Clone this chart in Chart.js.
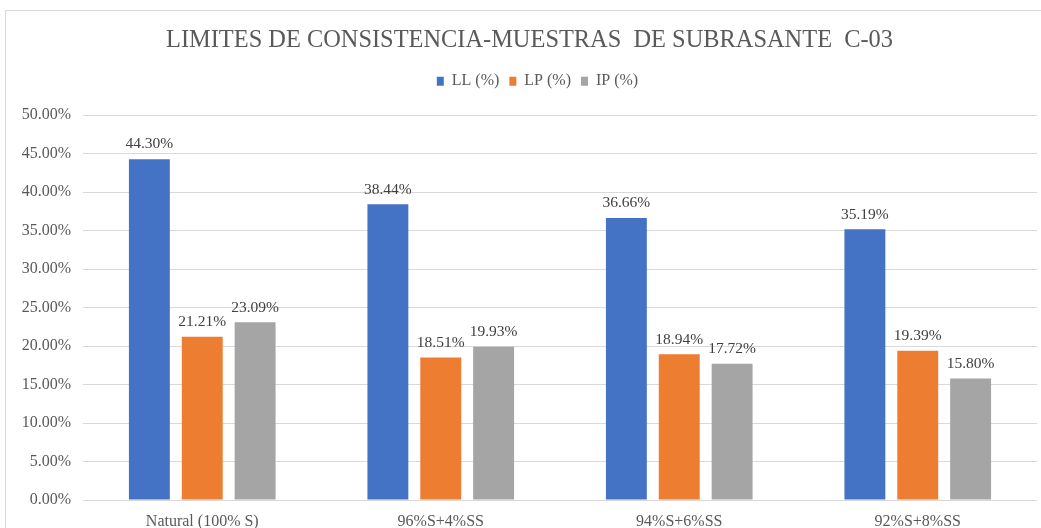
<!DOCTYPE html>
<html><head><meta charset="utf-8">
<script src="https://cdn.jsdelivr.net/npm/chart.js@4"></script>
<style>
html,body{margin:0;padding:0;background:#fff;overflow:hidden}
#wrap{position:relative;width:1041px;height:528px}
#frame{position:absolute;left:5px;top:10px;width:1100px;height:600px;border:1px solid #d9d9d9;box-sizing:border-box}
canvas{position:absolute;left:0;top:0}
</style></head>
<body><div id="wrap"><div id="frame"></div><canvas id="c" width="1041" height="528"></canvas></div>
<script>
const categories = ['Natural (100% S)', '96%S+4%SS', '94%S+6%SS', '92%S+8%SS'];
const seriesNames = ['LL (%)', 'LP (%)', 'IP (%)'];
const llValues = [44.30, 38.44, 36.66, 35.19];
const lpValues = [21.21, 18.51, 18.94, 19.39];
const ipValues = [23.09, 19.93, 17.72, 15.80];
const colors = ['#4472C4', '#ED7D31', '#A5A5A5'];
const FONT = "'Liberation Serif', 'Times New Roman', serif";

function shiftDraw(box, dx) {
  if (!box) return;
  const d = box.draw.bind(box);
  box.draw = function (...args) {
    const ctx = this.ctx;
    ctx.save();
    ctx.translate(dx, 0);
    d(...args);
    ctx.restore();
  };
}

const valueLabels = {
  id: 'valueLabels',
  afterInit(chart) {
    const l = chart.legend;
    if (l) {
      const f = l.fit.bind(l);
      l.fit = function () { f(); this.height += 16; };
    }
    shiftDraw(chart.legend, 19);
    shiftDraw(chart.titleBlock, 11);
  },
  afterDatasetsDraw(chart) {
    const ctx = chart.ctx;
    ctx.save();
    ctx.font = '15.5px ' + FONT;
    ctx.fillStyle = '#404040';
    ctx.textAlign = 'center';
    ctx.textBaseline = 'bottom';
    chart.data.datasets.forEach((ds, i) => {
      chart.getDatasetMeta(i).data.forEach((bar, j) => {
        ctx.fillText(ds.data[j].toFixed(2) + '%', bar.x, bar.y - 7);
      });
    });
    ctx.restore();
  }
};

new Chart(document.getElementById('c'), {
  type: 'bar',
  data: {
    labels: categories,
    datasets: [
      { label: seriesNames[0], data: llValues, backgroundColor: colors[0] },
      { label: seriesNames[1], data: lpValues, backgroundColor: colors[1] },
      { label: seriesNames[2], data: ipValues, backgroundColor: colors[2] }
    ]
  },
  options: {
    responsive: false,
    animation: false,
    devicePixelRatio: 1,
    layout: { padding: { left: 0, right: 4, top: 0, bottom: 0 } },
    datasets: { bar: { categoryPercentage: 0.665, barPercentage: 0.774 } },
    plugins: {
      title: {
        display: true,
        text: 'LIMITES DE CONSISTENCIA-MUESTRAS  DE SUBRASANTE  C-03',
        color: '#595959',
        font: { family: FONT, size: 24.4, weight: 'normal' },
        padding: { top: 26, bottom: 8 }
      },
      legend: {
        display: true,
        labels: {
          color: '#595959',
          font: { family: FONT, size: 16 },
          boxWidth: 7, boxHeight: 9, padding: 10
        }
      },
      tooltip: { enabled: false }
    },
    scales: {
      x: {
        grid: { display: false },
        border: { display: false },
        ticks: { color: '#595959', font: { family: FONT, size: 16 }, padding: 4 },
        afterFit(s) { s.height = 28; }
      },
      y: {
        min: 0, max: 50,
        ticks: { stepSize: 5, color: '#595959', font: { family: FONT, size: 16 }, padding: 12,
          callback: v => v.toFixed(2) + '%' },
        grid: { color: '#d9d9d9', lineWidth: 1, drawTicks: false },
        border: { display: false },
        afterFit(s) { s.width = 83; }
      }
    }
  },
  plugins: [valueLabels]
});
</script></body></html>
